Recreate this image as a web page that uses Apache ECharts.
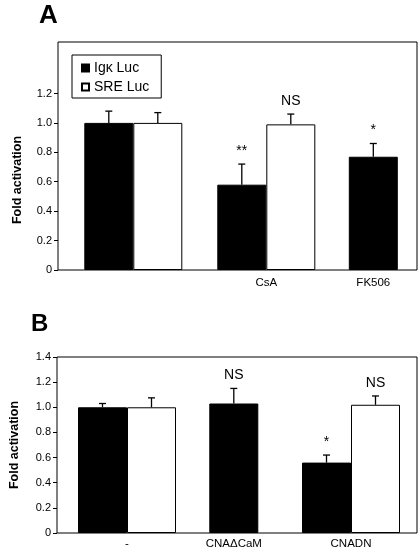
<!DOCTYPE html>
<html>
<head>
<meta charset="utf-8">
<script src="https://cdn.jsdelivr.net/npm/echarts@6/dist/echarts.min.js"></script>
<style>html,body{margin:0;padding:0;background:#fff}#c{width:420px;height:551px}</style>
</head>
<body>
<div id="c"></div>
<script>
// ---- Panel A data ----
const catA = ['', 'CsA', 'FK506'];
const igkA = [1.00, 0.58, 0.77];
const igkAErr = [0.08, 0.14, 0.09];
const sreA = [1.00, 0.99, null];
const sreAErr = [0.07, 0.07, null];
const sigIgkA = ['', '**', '*'];
const sigSreA = ['', 'NS', ''];
const ticksA = [0, 0.2, 0.4, 0.6, 0.8, 1.0, 1.2];

// ---- Panel B data ----
const catB = ['-', 'CNA\u0394CaM', 'CNADN'];
const igkB = [1.00, 1.03, 0.56];
const igkBErr = [0.03, 0.12, 0.06];
const sreB = [1.00, null, 1.02];
const sreBErr = [0.075, null, 0.07];
const sigIgkB = ['', 'NS', '*'];
const sigSreB = ['', '', 'NS'];
const ticksB = [0, 0.2, 0.4, 0.6, 0.8, 1.0, 1.2, 1.4];

const FONT = 'Liberation Sans, Arial, sans-serif';
const BAR_W = 49;

function pairOnly(vals, other) { return vals.map((v, i) => other[i] == null ? null : v); }
function singleOnly(vals, other) { return vals.map((v, i) => other[i] == null ? v : null); }

function errItems(vals, errs, sigs, other, mode) {
  const out = [];
  vals.forEach((v, i) => {
    if (v == null) return;
    const paired = other[i] != null;
    if (mode === 'black' && paired) out.push({i, v, e: errs[i], s: sigs[i], side: -1});
    if (mode === 'white' && paired) out.push({i, v, e: errs[i], s: sigs[i], side: 1});
    if (mode === 'single' && !paired) out.push({i, v, e: errs[i], s: sigs[i], side: 0});
  });
  return out;
}

function errSeries(axisIdx, items) {
  return {
    type: 'custom', xAxisIndex: axisIdx, yAxisIndex: axisIdx, silent: true, z: 5,
    data: items.map(d => [d.i, d.v, d.e]),
    encode: {x: 0, y: 1},
    renderItem: function (params, api) {
      const d = items[params.dataIndex];
      const base = api.coord([d.i, d.v]);
      const top = api.coord([d.i, d.v + d.e]);
      const x = base[0] + d.side * BAR_W / 2;
      const children = [
        {type: 'line', shape: {x1: x, y1: base[1], x2: x, y2: top[1]}, style: {stroke: '#000', lineWidth: 1.3}},
        {type: 'line', shape: {x1: x - 3.5, y1: top[1], x2: x + 3.5, y2: top[1]}, style: {stroke: '#000', lineWidth: 1.3}}
      ];
      if (d.s) {
        children.push({type: 'text', x: x, y: top[1] - 6,
          style: {text: d.s, fill: '#000', font: '14px ' + FONT, textAlign: 'center', textVerticalAlign: 'bottom'}});
      }
      return {type: 'group', children};
    }
  };
}

const blackStyle = {color: '#000', borderColor: '#000', borderWidth: 1};
const whiteStyle = {color: '#fff', borderColor: '#000', borderWidth: 1};
const fmt = v => v === 0 ? '0' : v.toFixed(1);

function catAxis(grid, cats, showFn, margin) {
  return {
    type: 'category', gridIndex: grid, data: cats, boundaryGap: false,
    axisLine: {show: false}, axisTick: {show: false}, splitLine: {show: false},
    axisLabel: {show: showFn != null, margin: margin, color: '#000', fontFamily: FONT, fontSize: 11.5,
      interval: 0, showMinLabel: true, showMaxLabel: true,
      formatter: (val, idx) => showFn && showFn(idx) ? val : ''}
  };
}
function hiddenY(grid, max) {
  return {type: 'value', gridIndex: grid, min: 0, max: max, show: false, splitLine: {show: false}};
}

const chart = echarts.init(document.getElementById('c'), null, {renderer: 'canvas'});
chart.setOption({
  animation: false,
  backgroundColor: '#fff',
  textStyle: {fontFamily: FONT},
  title: [
    {text: 'A', left: 34, top: -2, textStyle: {fontSize: 26, fontWeight: 'bold', color: '#000', fontFamily: FONT}},
    {text: 'B', left: 26, top: 307, textStyle: {fontSize: 24, fontWeight: 'bold', color: '#000', fontFamily: FONT}}
  ],
  legend: {
    data: [{name: 'Ig\u03ba Luc', icon: 'rect'}, {name: 'SRE Luc', icon: 'rect'}],
    orient: 'vertical', left: 72, top: 55, itemWidth: 7, itemHeight: 7, itemGap: 5,
    selectedMode: false, borderColor: '#000', borderWidth: 1, padding: [6, 12, 4, 9],
    textStyle: {fontSize: 14, color: '#000', fontFamily: FONT}
  },
  grid: [
    {left: 58, top: 42, width: 359, height: 228, show: true, borderColor: '#000', borderWidth: 1, backgroundColor: 'rgba(0,0,0,0)'},
    {left: 133.3, top: 42, width: 266, height: 228},
    {left: 107.3, top: 42, width: 266, height: 228},
    {left: 56, top: 357, width: 361, height: 176, show: true, borderColor: '#000', borderWidth: 1, backgroundColor: 'rgba(0,0,0,0)'},
    {left: 127, top: 357, width: 224, height: 176},
    {left: 121.8, top: 357, width: 224, height: 176}
  ],
  xAxis: [
    catAxis(0, catA, null, 7),
    catAxis(1, catA, i => sreA[i] != null, 7),
    catAxis(2, catA, i => sreA[i] == null, 7),
    catAxis(3, catB, null, 5),
    catAxis(4, catB, i => sreB[i] != null, 5),
    catAxis(5, catB, i => sreB[i] == null, 5)
  ],
  yAxis: [
    {type: 'value', gridIndex: 0, min: 0, max: 1.55,
      name: 'Fold activation', nameLocation: 'middle', nameGap: 34,
      nameTextStyle: {fontSize: 12.5, fontWeight: 'bold', color: '#000', fontFamily: FONT, padding: [0, 48, 0, 0]},
      axisLine: {show: false}, splitLine: {show: false},
      axisTick: {show: true, length: 4, customValues: ticksA, lineStyle: {color: '#000'}},
      axisLabel: {customValues: ticksA, margin: 6, color: '#000', fontSize: 11, fontFamily: FONT, formatter: fmt}},
    hiddenY(1, 1.55),
    hiddenY(2, 1.55),
    {type: 'value', gridIndex: 3, min: 0, max: 1.4,
      name: 'Fold activation', nameLocation: 'middle', nameGap: 36,
      nameTextStyle: {fontSize: 12.5, fontWeight: 'bold', color: '#000', fontFamily: FONT},
      axisLine: {show: false}, splitLine: {show: false},
      axisTick: {show: true, length: 4, customValues: ticksB, lineStyle: {color: '#000'}},
      axisLabel: {customValues: ticksB, margin: 6, color: '#000', fontSize: 11, fontFamily: FONT, formatter: fmt}},
    hiddenY(4, 1.4),
    hiddenY(5, 1.4)
  ],
  series: [
    {name: 'Ig\u03ba Luc', type: 'bar', xAxisIndex: 1, yAxisIndex: 1, data: pairOnly(igkA, sreA), barWidth: BAR_W, barGap: '0%', itemStyle: blackStyle},
    {name: 'SRE Luc', type: 'bar', xAxisIndex: 1, yAxisIndex: 1, data: sreA, barWidth: BAR_W, barGap: '0%', itemStyle: whiteStyle},
    {name: 'Ig\u03ba Luc', type: 'bar', xAxisIndex: 2, yAxisIndex: 2, data: singleOnly(igkA, sreA), barWidth: BAR_W, itemStyle: blackStyle},
    errSeries(1, errItems(igkA, igkAErr, sigIgkA, sreA, 'black')),
    errSeries(1, errItems(sreA, sreAErr, sigSreA, sreA, 'white')),
    errSeries(2, errItems(igkA, igkAErr, sigIgkA, sreA, 'single')),

    {name: 'Ig\u03ba Luc B', type: 'bar', xAxisIndex: 4, yAxisIndex: 4, data: pairOnly(igkB, sreB), barWidth: BAR_W, barGap: '0%', itemStyle: blackStyle},
    {name: 'SRE Luc B', type: 'bar', xAxisIndex: 4, yAxisIndex: 4, data: sreB, barWidth: BAR_W, barGap: '0%', itemStyle: whiteStyle},
    {name: 'Ig\u03ba Luc B2', type: 'bar', xAxisIndex: 5, yAxisIndex: 5, data: singleOnly(igkB, sreB), barWidth: BAR_W, itemStyle: blackStyle},
    errSeries(4, errItems(igkB, igkBErr, sigIgkB, sreB, 'black')),
    errSeries(4, errItems(sreB, sreBErr, sigSreB, sreB, 'white')),
    errSeries(5, errItems(igkB, igkBErr, sigIgkB, sreB, 'single'))
  ]
});
</script>
</body>
</html>
